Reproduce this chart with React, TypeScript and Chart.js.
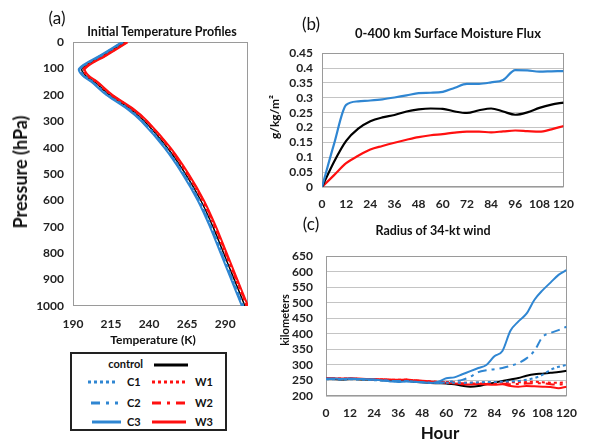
import React, { useEffect, useRef } from "react";
import { Chart, registerables } from "chart.js";
Chart.register(...registerables);

// ---------- Panel (a): initial temperature profiles ----------
const pressureLevels = [0, 50, 100, 125, 150, 200, 250, 300, 400, 500, 600, 700, 800, 900, 1000];
const tempControl = [224, 210, 196, 198, 204, 214, 227, 237, 252, 264, 274, 282, 289, 296, 303];
const tempC1 = [223, 209, 195, 197, 203, 213, 226, 236, 251, 263, 273, 281, 288, 295, 302];
const tempC2 = [222.5, 208.5, 194.5, 196.5, 202.5, 212.5, 225.5, 235.5, 250.5, 262.5, 272.5, 280.5, 287.5, 294.5, 301.5];
const tempC3 = [222, 208, 194, 196, 202, 212, 225, 235, 250, 262, 272, 280, 287, 294, 301];
const tempW1 = [225, 211, 197, 199, 205, 215, 228, 238, 253, 265, 275, 283, 290, 297, 304];
const tempW2 = [225.5, 211.5, 197.5, 199.5, 205.5, 215.5, 228.5, 238.5, 253.5, 265.5, 275.5, 283.5, 290.5, 297.5, 304.5];
const tempW3 = [226, 212, 198, 200, 206, 216, 229, 239, 254, 266, 276, 284, 291, 298, 305];
const tempTicks = [190, 215, 240, 265, 290];
const pressureTicks = [0, 100, 200, 300, 400, 500, 600, 700, 800, 900, 1000];

// ---------- Panel (b): 0-400 km surface moisture flux ----------
const fluxHours = [0, 6, 12, 18, 24, 30, 36, 42, 48, 54, 60, 66, 72, 78, 84, 90, 96, 102, 108, 114, 120];
const fluxC3 = [0, 0.145, 0.276, 0.288, 0.291, 0.295, 0.301, 0.308, 0.316, 0.317, 0.32, 0.334, 0.347, 0.347, 0.352, 0.36, 0.393, 0.392, 0.388, 0.389, 0.39];
const fluxControl = [0, 0.085, 0.155, 0.196, 0.221, 0.234, 0.242, 0.254, 0.261, 0.264, 0.263, 0.254, 0.249, 0.258, 0.264, 0.254, 0.243, 0.251, 0.266, 0.277, 0.284];
const fluxW3 = [0, 0.04, 0.08, 0.105, 0.126, 0.138, 0.149, 0.159, 0.168, 0.174, 0.178, 0.183, 0.186, 0.186, 0.184, 0.187, 0.19, 0.188, 0.186, 0.194, 0.205];
const fluxTicks = [0, 0.05, 0.1, 0.15, 0.2, 0.25, 0.3, 0.35, 0.4, 0.45];
const hourTicks = [0, 12, 24, 36, 48, 60, 72, 84, 96, 108, 120];

// ---------- Panel (c): radius of 34-kt wind ----------
const radHours = [0, 4, 8, 12, 16, 20, 24, 28, 32, 36, 40, 44, 48, 52, 56, 60, 64, 68, 72, 76, 80, 84, 88, 92, 96, 100, 104, 108, 112, 116, 120];
const radControl = [256, 255, 253, 255, 254, 253, 252, 251, 250, 250, 249, 246, 244, 242, 241, 240, 238, 233, 230, 232, 238, 243, 248, 253, 258, 265, 270, 272, 275, 277, 281];
const radC1 = [254, 254, 253, 254, 253, 252, 251, 250, 249, 247, 248, 246, 244, 243, 242, 243, 243, 242, 243, 244, 245, 245, 246, 247, 248, 252, 258, 268, 284, 294, 300];
const radC2 = [255, 255, 254, 255, 254, 253, 252, 251, 249, 248, 248, 246, 244, 242, 242, 244, 248, 252, 262, 277, 283, 286, 290, 297, 306, 321, 346, 390, 403, 412, 423];
const radC3 = [256, 256, 255, 256, 255, 254, 253, 250, 247, 245, 247, 246, 244, 242, 246, 257, 260, 270, 280, 290, 300, 328, 345, 410, 440, 465, 510, 540, 565, 590, 605];
const radW1 = [257, 256, 256, 256, 255, 255, 254, 253, 252, 252, 252, 250, 248, 247, 246, 245, 244, 243, 243, 243, 242, 243, 244, 244, 244, 245, 246, 244, 243, 243, 244];
const radW2 = [257, 256, 255, 256, 255, 254, 253, 253, 252, 251, 252, 250, 248, 246, 245, 244, 242, 241, 240, 240, 239, 239, 240, 238, 239, 240, 241, 241, 238, 237, 240];
const radW3 = [258, 257, 256, 257, 256, 255, 254, 254, 253, 252, 253, 251, 249, 247, 245, 243, 240, 238, 237, 239, 237, 236, 238, 232, 230, 232, 231, 230, 229, 225, 230];
const radTicks = [200, 250, 300, 350, 400, 450, 500, 550, 600, 650];

const BLUE = "#2f86d2";
const RED = "#ff1010";
const BLACK = "#000000";
const DOT = [3, 3];
const DASHDOT = [9, 5, 3, 5];
const FONT = "Lato, 'Open Sans', sans-serif";

const boxPlugin = {
  id: "boxPlugin",
  beforeDatasetsDraw(chart: any) {
    const { ctx, chartArea } = chart;
    ctx.save();
    ctx.strokeStyle = "#9a9a9a";
    ctx.lineWidth = 1;
    ctx.strokeRect(
      Math.round(chartArea.left) + 0.5,
      Math.round(chartArea.top) + 0.5,
      Math.round(chartArea.right - chartArea.left) - 1,
      Math.round(chartArea.bottom - chartArea.top) - 1
    );
    ctx.restore();
  },
};

const tickFont = { family: FONT, weight: "bold" as const, size: 12 };
const fmt = (v: any) => String(Number(Number(v).toFixed(3)));
const fixedTicks = (arr: number[]) => (s: any) => {
  s.ticks = arr.map((v) => ({ value: v }));
};
const tickOpts = (padding: number) => ({
  font: tickFont,
  color: "#222",
  padding,
  autoSkip: false,
  maxRotation: 0,
  minRotation: 0,
  callback: fmt,
});

function profile(label: string, temps: number[], color: string, dash: number[], width: number) {
  return {
    label,
    data: temps.map((t, i) => ({ x: t, y: pressureLevels[i] })),
    borderColor: color,
    borderWidth: width,
    borderDash: dash,
    pointRadius: 0,
    tension: 0.35,
    fill: false,
  };
}

function series(label: string, xs: number[], ys: number[], color: string, dash: number[], width: number, tension = 0.3) {
  return {
    label,
    data: ys.map((v, i) => ({ x: xs[i], y: v })),
    borderColor: color,
    borderWidth: width,
    borderDash: dash,
    pointRadius: 0,
    tension,
    cubicInterpolationMode: "monotone" as const,
    fill: false,
  };
}

function configA(): any {
  return {
    type: "line",
    data: {
      datasets: [
        profile("C3", tempC3, BLUE, [], 2),
        profile("C2", tempC2, BLUE, DASHDOT, 2),
        profile("C1", tempC1, BLUE, DOT, 2),
        profile("W3", tempW3, RED, [], 2),
        profile("W2", tempW2, RED, DASHDOT, 2),
        profile("W1", tempW1, RED, DOT, 2),
        profile("control", tempControl, BLACK, [], 1.5),
      ],
    },
    options: {
      animation: false,
      responsive: false,
      maintainAspectRatio: false,
      layout: { padding: { top: 13, right: 14, left: 0, bottom: 0 } },
      plugins: { legend: { display: false }, tooltip: { enabled: false } },
      scales: {
        x: {
          type: "linear",
          min: 190,
          max: 305,
          afterBuildTicks: fixedTicks(tempTicks),
          afterFit: (s: any) => {
            s.height = 40;
          },
          grid: { display: false, drawTicks: false },
          border: { display: false },
          ticks: tickOpts(11),
        },
        y: {
          type: "linear",
          reverse: true,
          min: 0,
          max: 1000,
          afterBuildTicks: fixedTicks(pressureTicks),
          afterFit: (s: any) => {
            s.width = 73;
          },
          grid: { display: false, drawTicks: false },
          border: { display: false },
          ticks: tickOpts(9),
        },
      },
    },
    plugins: [boxPlugin],
  };
}

function configB(): any {
  return {
    type: "line",
    data: {
      datasets: [
        series("C3", fluxHours, fluxC3, BLUE, [], 2.2, 0.4),
        series("control", fluxHours, fluxControl, BLACK, [], 2.2, 0.4),
        series("W3", fluxHours, fluxW3, RED, [], 2.2, 0.4),
      ],
    },
    options: {
      animation: false,
      responsive: false,
      maintainAspectRatio: false,
      layout: { padding: { top: 8, right: 14, left: 0, bottom: 0 } },
      plugins: { legend: { display: false }, tooltip: { enabled: false } },
      scales: {
        x: {
          type: "linear",
          min: 0,
          max: 120,
          afterBuildTicks: fixedTicks(hourTicks),
          afterFit: (s: any) => {
            s.height = 25;
          },
          grid: { display: false, drawTicks: false },
          border: { display: false },
          ticks: tickOpts(10),
        },
        y: {
          type: "linear",
          min: 0,
          max: 0.45,
          afterBuildTicks: fixedTicks(fluxTicks),
          afterFit: (s: any) => {
            s.width = 60;
          },
          grid: { color: "#c4c4c4", drawTicks: false },
          border: { display: false },
          ticks: tickOpts(9),
        },
      },
    },
    plugins: [boxPlugin],
  };
}

function configC(): any {
  return {
    type: "line",
    data: {
      datasets: [
        series("C1", radHours, radC1, BLUE, DOT, 2),
        series("C2", radHours, radC2, BLUE, DASHDOT, 2),
        series("C3", radHours, radC3, BLUE, [], 2),
        series("W1", radHours, radW1, RED, DOT, 2),
        series("W2", radHours, radW2, RED, DASHDOT, 2),
        series("W3", radHours, radW3, RED, [], 2),
        series("control", radHours, radControl, BLACK, [], 2),
      ],
    },
    options: {
      animation: false,
      responsive: false,
      maintainAspectRatio: false,
      layout: { padding: { top: 8, right: 14, left: 0, bottom: 0 } },
      plugins: { legend: { display: false }, tooltip: { enabled: false } },
      scales: {
        x: {
          type: "linear",
          min: 0,
          max: 120,
          afterBuildTicks: fixedTicks(hourTicks),
          afterFit: (s: any) => {
            s.height = 26;
          },
          grid: { display: false, drawTicks: false },
          border: { display: false },
          ticks: tickOpts(10),
        },
        y: {
          type: "linear",
          min: 200,
          max: 650,
          afterBuildTicks: fixedTicks(radTicks),
          afterFit: (s: any) => {
            s.width = 64;
          },
          grid: { color: "#c4c4c4", drawTicks: false },
          border: { display: false },
          ticks: tickOpts(13),
        },
      },
    },
    plugins: [boxPlugin],
  };
}

function Label(props: { x: number; y: number; text: string; size: number; bold?: boolean; rotate?: boolean }) {
  const { x, y, text, size, bold, rotate } = props;
  return (
    <div
      style={{
        position: "absolute",
        left: x,
        top: y,
        transform: `translate(-50%, -50%)${rotate ? " rotate(-90deg)" : ""}`,
        fontFamily: FONT,
        fontSize: size,
        fontWeight: bold ? 700 : 400,
        color: "#111",
        whiteSpace: "nowrap",
        lineHeight: 1,
      }}
    >
      {text}
    </div>
  );
}

function Legend() {
  const t = { fontFamily: FONT, fontSize: 11, fontWeight: 700, fill: "#111" } as any;
  return (
    <svg
      width={590}
      height={441}
      style={{ position: "absolute", left: 0, top: 0, pointerEvents: "none" }}
    >
      <rect x={71} y={353} width={155} height={77} fill="white" stroke="#222" strokeWidth={2} />
      <text x={143} y={368} textAnchor="end" style={t}>control</text>
      <line x1={154} y1={365} x2={188} y2={365} stroke={BLACK} strokeWidth={3} />

      <line x1={88} y1={382} x2={118} y2={382} stroke={BLUE} strokeWidth={3} strokeDasharray="3 3" />
      <text x={127} y={386} style={t}>C1</text>
      <line x1={152} y1={382} x2={188} y2={382} stroke={RED} strokeWidth={3} strokeDasharray="3 3" />
      <text x={195} y={386} style={t}>W1</text>

      <line x1={91} y1={403} x2={118} y2={403} stroke={BLUE} strokeWidth={3} strokeDasharray="9 6 3 6" />
      <text x={127} y={407} style={t}>C2</text>
      <line x1={152} y1={403} x2={186} y2={403} stroke={RED} strokeWidth={3} strokeDasharray="9 6 3 6" />
      <text x={195} y={407} style={t}>W2</text>

      <line x1={92} y1={422} x2={121} y2={422} stroke={BLUE} strokeWidth={3} />
      <text x={127} y={426} style={t}>C3</text>
      <line x1={152} y1={422} x2={186} y2={422} stroke={RED} strokeWidth={3} />
      <text x={195} y={426} style={t}>W3</text>
    </svg>
  );
}

export default function App() {
  const refA = useRef<HTMLCanvasElement>(null);
  const refB = useRef<HTMLCanvasElement>(null);
  const refC = useRef<HTMLCanvasElement>(null);

  useEffect(() => {
    const a = new Chart(refA.current!, configA());
    const b = new Chart(refB.current!, configB());
    const c = new Chart(refC.current!, configC());
    return () => {
      a.destroy();
      b.destroy();
      c.destroy();
    };
  }, []);

  return (
    <div
      style={{
        position: "fixed",
        left: 0,
        top: 0,
        width: 590,
        height: 441,
        background: "#fff",
        overflow: "hidden",
      }}
    >
      <canvas ref={refA} width={262} height={320} style={{ position: "absolute", left: 0, top: 26, width: 262, height: 320 }} />
      <canvas ref={refB} width={322} height={175} style={{ position: "absolute", left: 262, top: 37, width: 322, height: 175 }} />
      <canvas ref={refC} width={325} height={186} style={{ position: "absolute", left: 262, top: 236, width: 325, height: 186 }} />

      <Label x={57} y={17} text="(a)" size={17} />
      <Label x={162} y={32} text="Initial Temperature Profiles" size={12.5} bold />
      <Label x={20} y={172} text="Pressure (hPa)" size={18} bold rotate />
      <Label x={153} y={340} text="Temperature (K)" size={12} bold />

      <Label x={311} y={23} text="(b)" size={17} />
      <Label x={448} y={33} text="0-400 km Surface Moisture Flux" size={13} bold />
      <Label x={275} y={117} text="g/kg/m²" size={12} bold rotate />

      <Label x={311} y={223} text="(c)" size={17} />
      <Label x={433} y={231} text="Radius of 34-kt wind" size={12.5} bold />
      <Label x={284} y={320} text="kilometers" size={11} bold rotate />
      <Label x={440} y={432} text="Hour" size={17} bold />

      <Legend />
    </div>
  );
}
